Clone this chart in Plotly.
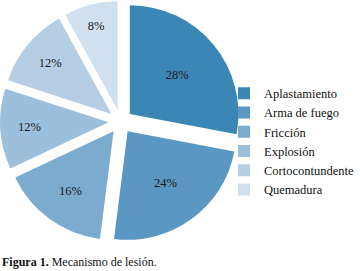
import plotly.graph_objects as go

labels = ["Aplastamiento", "Arma de fuego", "Fricción", "Explosión", "Cortocontundente", "Quemadura"]
values = [28, 24, 16, 12, 12, 8]
text_labels = ["28%", "24%", "16%", "12%", "12%", "8%"]
colors = ["#3A87B5", "#5A97C3", "#7CABD0", "#9CBFDC", "#B5CEE4", "#D1E0EE"]

SERIF = "Liberation Serif"

fig = go.Figure(go.Pie(
    labels=labels,
    values=values,
    text=text_labels,
    textinfo="text",
    textposition="inside",
    insidetextorientation="horizontal",
    sort=False,
    direction="clockwise",
    rotation=0,
    pull=[0.11] * 6,
    marker=dict(colors=colors, line=dict(width=0)),
    textfont=dict(family=SERIF, size=12.5, color="#1a1a1a"),
    domain=dict(x=[0, 0.67], y=[0.103, 1.0]),
    hoverinfo="label+percent",
))

fig.update_layout(
    width=360, height=271,
    margin=dict(l=0, r=0, t=0, b=0),
    paper_bgcolor="white",
    plot_bgcolor="white",
    font=dict(family=SERIF, size=12, color="#111111"),
    legend=dict(
        x=1.0, y=0.71, xanchor="right", yanchor="top",
        font=dict(family=SERIF, size=12.5, color="#111111"),
        itemwidth=30,
        tracegroupgap=0,
        bgcolor="rgba(0,0,0,0)",
    ),
    annotations=[dict(
        text="<b>Figura 1.</b> Mecanismo de lesión.",
        x=0, y=0.033, xref="paper", yref="paper",
        xanchor="left", yanchor="middle", showarrow=False,
        font=dict(family=SERIF, size=12, color="#111111"),
    )],
)

fig.write_html("out.html", config={"displayModeBar": False},
               post_script="document.body.style.margin='0px';")
